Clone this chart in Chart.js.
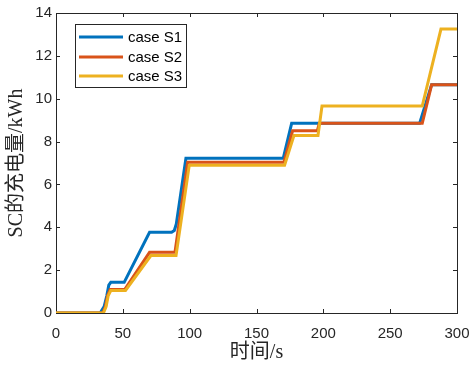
<!DOCTYPE html>
<html lang="zh">
<head>
<meta charset="UTF-8">
<title>SC的充电量</title>
<script src="https://cdn.jsdelivr.net/npm/chart.js"></script>
<style>
  html, body { margin: 0; padding: 0; background: #fff; }
</style>
</head>
<body>
<canvas id="chart" width="476" height="366"></canvas>
<script>
// series data (time in s, energy in kWh)
const s1Time = [0, 33, 36, 38, 39.5, 41, 51, 70, 86.5, 88.5, 90, 97.2, 170, 176.3, 196, 272, 281, 300];
const s1Val  = [0, 0, 0.3, 0.8, 1.3, 1.43, 1.43, 3.77, 3.77, 3.85, 4.15, 7.22, 7.22, 8.85, 8.85, 8.85, 10.65, 10.65];

const s2Time = [0, 35, 37, 38.5, 40.5, 51.5, 70, 89, 98.5, 170.5, 177, 195.5, 197, 274, 281, 300];
const s2Val  = [0, 0, 0.3, 0.8, 1.1, 1.1, 2.83, 2.83, 7.03, 7.03, 8.5, 8.5, 8.85, 8.85, 10.65, 10.65];

const s3Time = [0, 35.5, 37.5, 39, 41, 52, 71, 89.8, 99.7, 171, 178, 196, 199, 274, 288, 300];
const s3Val  = [0, 0, 0.3, 0.8, 1.05, 1.05, 2.68, 2.68, 6.9, 6.9, 8.28, 8.28, 9.66, 9.66, 13.25, 13.25];

const seriesLabels = ["case S1", "case S2", "case S3"];
const seriesColors = ["#0072BD", "#D95319", "#EDB120"];

const xTicks = [0, 50, 100, 150, 200, 250, 300];
const yTicks = [0, 2, 4, 6, 8, 10, 12, 14];

function toPoints(xs, ys) {
    return xs.map((x, i) => ({ x: x, y: ys[i] }));
}

const axisColor = "#262626";
const tickFont = { family: "'Liberation Sans', Arial, sans-serif", size: 15 };
const titleFont = { family: "'Liberation Serif', 'Noto Sans CJK SC', serif", size: 20 };

// MATLAB-like box with inward tick marks on all four sides
const boxPlugin = {
    id: "box",
    beforeDatasetsDraw(chart) {
        const ctx = chart.ctx;
        const a = chart.chartArea;
        const xs = chart.scales.x, ys = chart.scales.y;
        ctx.save();
        ctx.strokeStyle = axisColor;
        ctx.lineWidth = 1;
        ctx.strokeRect(a.left + 0.5, a.top + 0.5, a.right - a.left, a.bottom - a.top);
        ctx.beginPath();
        xTicks.forEach(v => {
            const px = Math.round(xs.getPixelForValue(v)) + 0.5;
            ctx.moveTo(px, a.bottom); ctx.lineTo(px, a.bottom - 4);
            ctx.moveTo(px, a.top); ctx.lineTo(px, a.top + 4);
        });
        yTicks.forEach(v => {
            const py = Math.round(ys.getPixelForValue(v)) + 0.5;
            ctx.moveTo(a.left, py); ctx.lineTo(a.left + 4, py);
            ctx.moveTo(a.right, py); ctx.lineTo(a.right - 4, py);
        });
        ctx.stroke();
        ctx.restore();
    }
};

// legend box inside the plot, top-left
const legendPlugin = {
    id: "insideLegend",
    afterDatasetsDraw(chart) {
        const ctx = chart.ctx;
        ctx.save();
        ctx.fillStyle = "#fff";
        ctx.fillRect(75, 24, 111, 63);
        ctx.strokeStyle = axisColor;
        ctx.lineWidth = 1;
        ctx.strokeRect(75.5, 24.5, 111, 63);
        const rows = [37, 57, 76];
        chart.data.datasets.forEach((ds, i) => {
            ctx.strokeStyle = ds.borderColor;
            ctx.lineWidth = 3;
            ctx.beginPath();
            ctx.moveTo(79, rows[i]);
            ctx.lineTo(123, rows[i]);
            ctx.stroke();
            ctx.fillStyle = "#000";
            ctx.font = "15px 'Liberation Sans', Arial, sans-serif";
            ctx.textBaseline = "middle";
            ctx.fillText(ds.label, 128, rows[i] + 1);
        });
        ctx.restore();
    }
};

new Chart(document.getElementById("chart"), {
    type: "line",
    data: {
        datasets: [
            { label: seriesLabels[0], data: toPoints(s1Time, s1Val), borderColor: seriesColors[0], order: 3 },
            { label: seriesLabels[1], data: toPoints(s2Time, s2Val), borderColor: seriesColors[1], order: 2 },
            { label: seriesLabels[2], data: toPoints(s3Time, s3Val), borderColor: seriesColors[2], order: 1 }
        ].map(d => Object.assign(d, { borderWidth: 3, pointRadius: 0, tension: 0, fill: false }))
    },
    options: {
        responsive: false,
        animation: false,
        layout: { padding: { top: 13, right: 19, left: 0, bottom: 0 } },
        plugins: { legend: { display: false }, tooltip: { enabled: false } },
        scales: {
            x: {
                type: "linear",
                min: 0, max: 300,
                afterFit(scale) {
                    scale.height = 53;
                    scale.paddingLeft = 0;
                    scale.paddingRight = 0;
                },
                afterBuildTicks(scale) { scale.ticks = xTicks.map(v => ({ value: v })); },
                grid: { display: false, drawTicks: false },
                border: { display: false },
                ticks: { color: axisColor, font: tickFont, padding: 12, maxRotation: 0 },
                title: { display: true, text: "时间/s", color: axisColor, font: titleFont, padding: { top: 0, bottom: 1 } }
            },
            y: {
                type: "linear",
                min: 0, max: 14,
                afterFit(scale) {
                    scale.width = 56;
                    scale.paddingTop = 0;
                    scale.paddingBottom = 0;
                },
                afterBuildTicks(scale) { scale.ticks = yTicks.map(v => ({ value: v })); },
                grid: { display: false, drawTicks: false },
                border: { display: false },
                ticks: { color: axisColor, font: tickFont, padding: 4 },
                title: { display: true, text: "SC的充电量/kWh", color: axisColor, font: titleFont, padding: { top: 5, bottom: 0 } }
            }
        }
    },
    plugins: [boxPlugin, legendPlugin]
});
</script>
</body>
</html>
